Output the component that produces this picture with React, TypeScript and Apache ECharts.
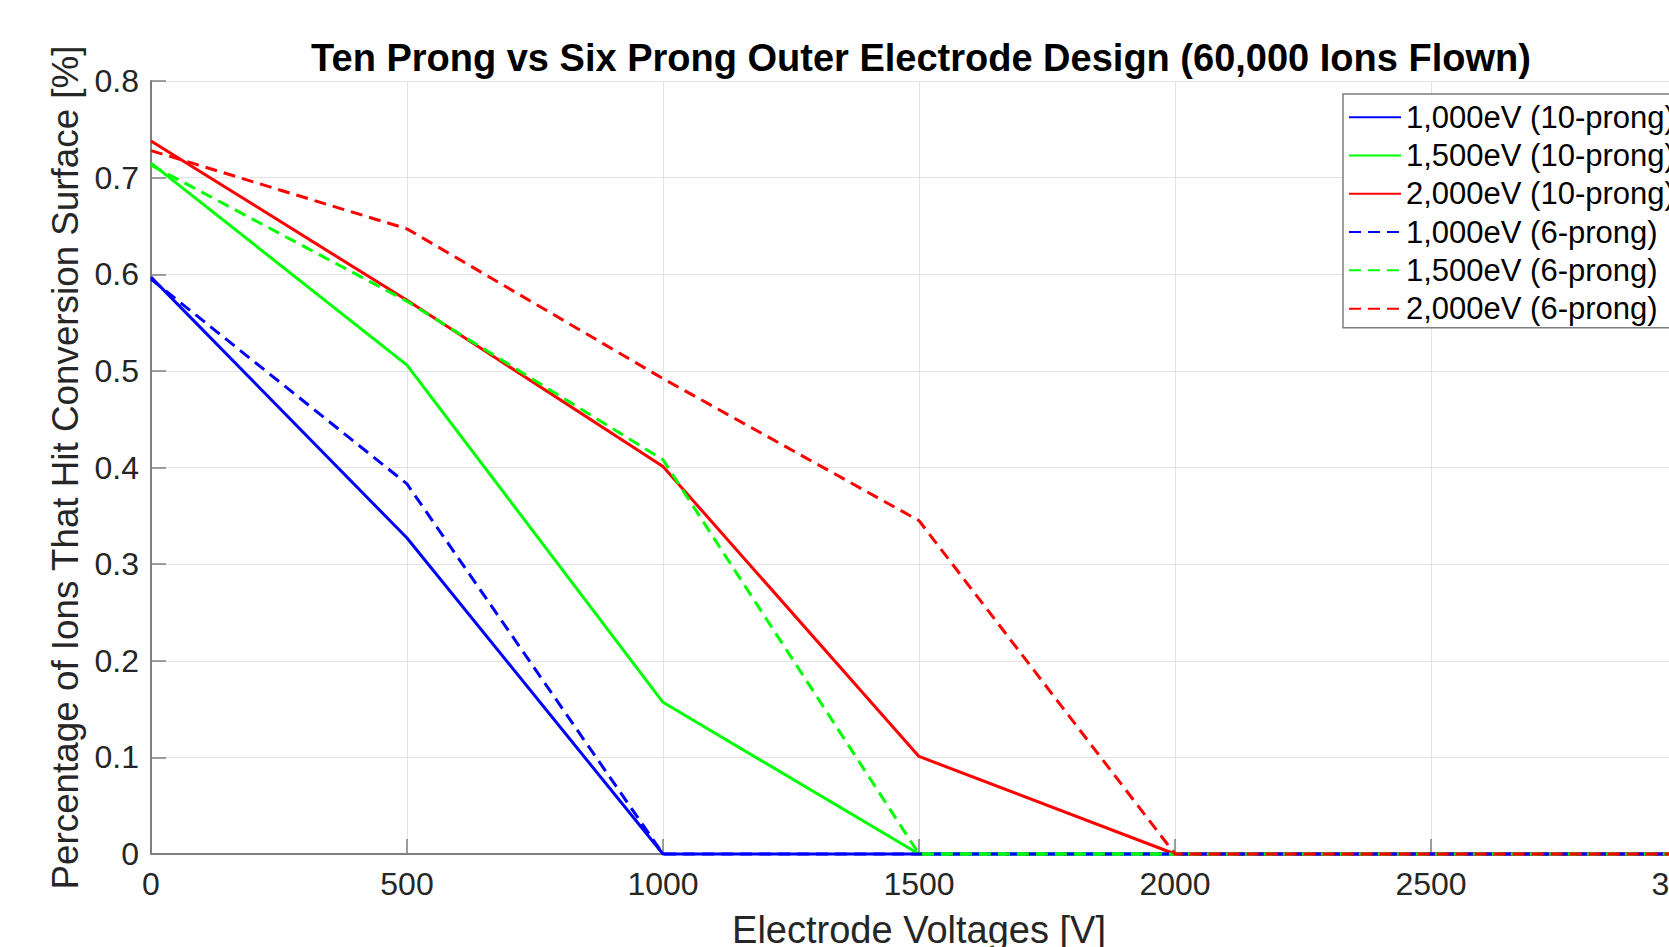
import React, { useEffect, useRef } from "react";
import * as echarts from "echarts";

const voltages = [0, 500, 1000, 1500, 2000, 2500, 3000];
const xTicks = [0, 500, 1000, 1500, 2000, 2500, 3000];
const yTicks = [0, 0.1, 0.2, 0.3, 0.4, 0.5, 0.6, 0.7, 0.8];

const ev1000Ten = [0.597, 0.327, 0, 0, 0, 0, 0];
const ev1500Ten = [0.715, 0.506, 0.157, 0, 0, 0, 0];
const ev2000Ten = [0.738, 0.573, 0.401, 0.101, 0, 0, 0];
const ev1000Six = [0.595, 0.383, 0, 0, 0, 0, 0];
const ev1500Six = [0.713, 0.572, 0.408, 0, 0, 0, 0];
const ev2000Six = [0.728, 0.647, 0.492, 0.345, 0, 0, 0];

const seriesNames = [
  "1,000eV (10-prong)",
  "1,500eV (10-prong)",
  "2,000eV (10-prong)",
  "1,000eV (6-prong)",
  "1,500eV (6-prong)",
  "2,000eV (6-prong)",
];
const seriesValues = [ev1000Ten, ev1500Ten, ev2000Ten, ev1000Six, ev1500Six, ev2000Six];
const seriesColors = ["#0000ff", "#00ff00", "#ff0000", "#0000ff", "#00ff00", "#ff0000"];
const seriesDashed = [false, false, false, true, true, true];

const titleText = "Ten Prong vs Six Prong Outer Electrode Design (60,000 Ions Flown)";
const xName = "Electrode Voltages [V]";
const yName = "Percentage of Ions That Hit Conversion Surface [%]";

const FONT = "'Liberation Sans', Arial, Helvetica, sans-serif";

export default function App() {
  const ref = useRef<HTMLDivElement>(null);
  useEffect(() => {
    document.body.style.margin = "0";
    document.body.style.overflow = "hidden";
    if (!ref.current) return;
    const chart = echarts.init(ref.current, undefined, { renderer: "svg" });
    const axisColor = "#7f7f7f";
    const textColor = "#262626";
    chart.setOption({
      animation: false,
      backgroundColor: "#ffffff",
      textStyle: { fontFamily: FONT },
      grid: {
        left: 151,
        top: 81,
        width: 1536,
        height: 773,
        containLabel: false,
        outerBoundsMode: "none",
      },
      graphic: [
        {
          type: "text",
          x: 921,
          y: 58,
          style: {
            text: titleText,
            font: `bold 38px ${FONT}`,
            fill: "#000000",
            textAlign: "center",
            textVerticalAlign: "middle",
          },
        },
      ],
      xAxis: {
        type: "value",
        min: xTicks[0],
        max: xTicks[xTicks.length - 1],
        interval: 500,
        name: xName,
        nameLocation: "middle",
        nameGap: 57,
        nameTextStyle: { fontSize: 38, color: textColor, fontFamily: FONT },
        axisLine: { show: true, lineStyle: { color: axisColor, width: 2 } },
        axisTick: { show: true, inside: true, length: 15, lineStyle: { color: axisColor, width: 1.5 } },
        axisLabel: {
          fontSize: 32,
          color: textColor,
          margin: 14,
          fontFamily: FONT,
          formatter: (v: number) => String(v),
        },
        splitLine: { show: true, lineStyle: { color: "#e3e3e3", width: 1 } },
      },
      yAxis: {
        type: "value",
        min: yTicks[0],
        max: yTicks[yTicks.length - 1],
        interval: 0.1,
        name: yName,
        nameLocation: "middle",
        nameGap: 67,
        nameRotate: 90,
        nameTextStyle: { fontSize: 36.8, color: textColor, fontFamily: FONT },
        axisLine: { show: true, lineStyle: { color: axisColor, width: 2 } },
        axisTick: { show: true, inside: true, length: 15, lineStyle: { color: axisColor, width: 1.5 } },
        axisLabel: {
          fontSize: 32,
          color: textColor,
          margin: 12,
          fontFamily: FONT,
          formatter: (v: number) => String(Math.round(v * 10) / 10),
        },
        splitLine: { show: true, lineStyle: { color: "#e3e3e3", width: 1 } },
      },
      legend: {
        show: true,
        orient: "vertical",
        left: 1343,
        top: 94,
        padding: [4, 5, 0, 5],
        itemGap: 0,
        itemWidth: 52,
        itemHeight: 14,
        backgroundColor: "#ffffff",
        borderColor: "#7f7f7f",
        borderWidth: 1.5,
        borderRadius: 0,
        itemStyle: { color: "transparent", borderWidth: 0, opacity: 0 },
        textStyle: { fontSize: 31, color: "#000000", lineHeight: 38.3, fontFamily: FONT },
        data: seriesNames,
      },
      series: seriesNames.map((name, i) => ({
        name,
        type: "line",
        data: voltages.map((x, j) => [x, seriesValues[i][j]]),
        symbol: "none",
        showSymbol: false,
        clip: false,
        color: seriesColors[i],
        lineStyle: {
          color: seriesColors[i],
          width: 3,
          type: seriesDashed[i] ? [12, 7] : "solid",
        },
        z: 2 + i,
      })),
    });
    return () => chart.dispose();
  }, []);
  return (
    <div
      ref={ref}
      style={{ position: "fixed", left: 0, top: 0, width: "100vw", height: "100vh", background: "#fff" }}
    />
  );
}
